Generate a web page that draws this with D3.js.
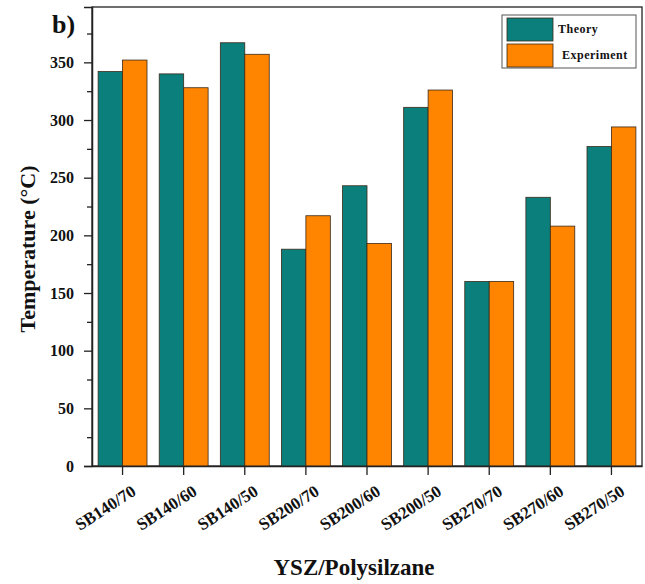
<!DOCTYPE html>
<html>
<head>
<meta charset="utf-8">
<script src="https://cdn.jsdelivr.net/npm/d3@7"></script>
<style>
  body { margin: 0; background: #fff; }
  svg text { font-family: "Liberation Serif", "Times New Roman", serif; font-weight: bold; fill: #111; }
</style>
</head>
<body>
<div id="chart"></div>
<script>
// Data
const categories = ["SB140/70", "SB140/60", "SB140/50", "SB200/70", "SB200/60", "SB200/50", "SB270/70", "SB270/60", "SB270/50"];
const theory = [342, 340, 367, 188, 243, 311, 160, 233, 277];
const experiment = [352, 328, 357, 217, 193, 326, 160, 208, 294];
const seriesNames = ["Theory", "Experiment"];
const colors = ["#0a7f7b", "#ff8400"];
const yTicks = [0, 50, 100, 150, 200, 250, 300, 350];

const W = 645, H = 584;
const margin = { top: 7, right: 3, bottom: 118, left: 92 };
const width = W - margin.left - margin.right;
const height = H - margin.top - margin.bottom;

const svg = d3.select("#chart").append("svg")
  .attr("width", W)
  .attr("height", H);

const g = svg.append("g")
  .attr("transform", `translate(${margin.left},${margin.top})`);

const x = d3.scaleBand().domain(categories).range([0, width]).paddingInner(0).paddingOuter(0);
const xInner = d3.scaleBand().domain(seriesNames).range([x.bandwidth() * 0.1, x.bandwidth() * 0.9]);
const y = d3.scaleLinear().domain([0, 398]).range([height, 0]);

// Frame (top + right)
g.append("rect")
  .attr("width", width).attr("height", height)
  .attr("fill", "none").attr("stroke", "#222").attr("stroke-width", 1.3);

// Bars
const rows = categories.map((c, i) => ({ cat: c, vals: [theory[i], experiment[i]] }));
const groups = g.selectAll(".grp").data(rows).enter().append("g")
  .attr("transform", d => `translate(${x(d.cat)},0)`);
groups.selectAll("rect")
  .data(d => d.vals.map((v, j) => ({ name: seriesNames[j], v, j })))
  .enter().append("rect")
  .attr("x", d => xInner(d.name))
  .attr("y", d => y(d.v))
  .attr("width", xInner.bandwidth())
  .attr("height", d => height - y(d.v))
  .attr("fill", d => colors[d.j])
  .attr("stroke", "#3a2a1a").attr("stroke-width", 0.8);

// Y axis with minor ticks
g.append("g")
  .call(d3.axisLeft(y).tickValues(d3.range(25, 400, 50)).tickSize(5).tickFormat(""))
  .call(a => a.select(".domain").remove())
  .selectAll("line").attr("stroke", "#222").attr("stroke-width", 1.3);
const yAxis = g.append("g")
  .call(d3.axisLeft(y).tickValues(yTicks).tickSize(8).tickPadding(10));
yAxis.select(".domain").attr("stroke", "#222").attr("stroke-width", 1.5);
yAxis.selectAll("line").attr("stroke", "#222").attr("stroke-width", 1.3);
yAxis.selectAll("text").style("font-size", "16px").attr("fill", "#111");

// X axis
const xAxis = g.append("g")
  .attr("transform", `translate(0,${height})`)
  .call(d3.axisBottom(x).tickSize(9).tickSizeOuter(0));
xAxis.select(".domain").attr("stroke", "#222").attr("stroke-width", 1.5);
xAxis.selectAll("line").attr("stroke", "#222").attr("stroke-width", 1.3);
xAxis.selectAll("text")
  .style("font-size", "17px")
  .attr("fill", "#111")
  .attr("text-anchor", "end")
  .attr("dy", 0)
  .attr("transform", "translate(8,18) rotate(-33)");

// Axis titles
svg.append("text")
  .attr("transform", "translate(35,249) rotate(-90)")
  .attr("text-anchor", "middle")
  .style("font-size", "22px")
  .text("Temperature (°C)");

svg.append("text")
  .attr("x", 354).attr("y", 575)
  .attr("text-anchor", "middle")
  .style("font-size", "23px")
  .text("YSZ/Polysilzane");

// Panel label
svg.append("text")
  .attr("x", 52).attr("y", 33)
  .style("font-size", "26px")
  .text("b)");

// Legend
const lg = svg.append("g").attr("transform", "translate(502,15)");
lg.append("rect").attr("width", 134).attr("height", 53)
  .attr("fill", "#fff").attr("stroke", "#555").attr("stroke-width", 1);
seriesNames.forEach((n, i) => {
  lg.append("rect")
    .attr("x", 5).attr("y", 3 + i * 26)
    .attr("width", 46).attr("height", 23)
    .attr("fill", colors[i]).attr("stroke", "#3a2a1a").attr("stroke-width", 0.8);
  lg.append("text")
    .attr("x", i === 0 ? 56 : 60).attr("y", 18 + i * 26)
    .style("font-size", "12px")
    .style("letter-spacing", "0.5px")
    .text(n);
});
</script>
</body>
</html>
